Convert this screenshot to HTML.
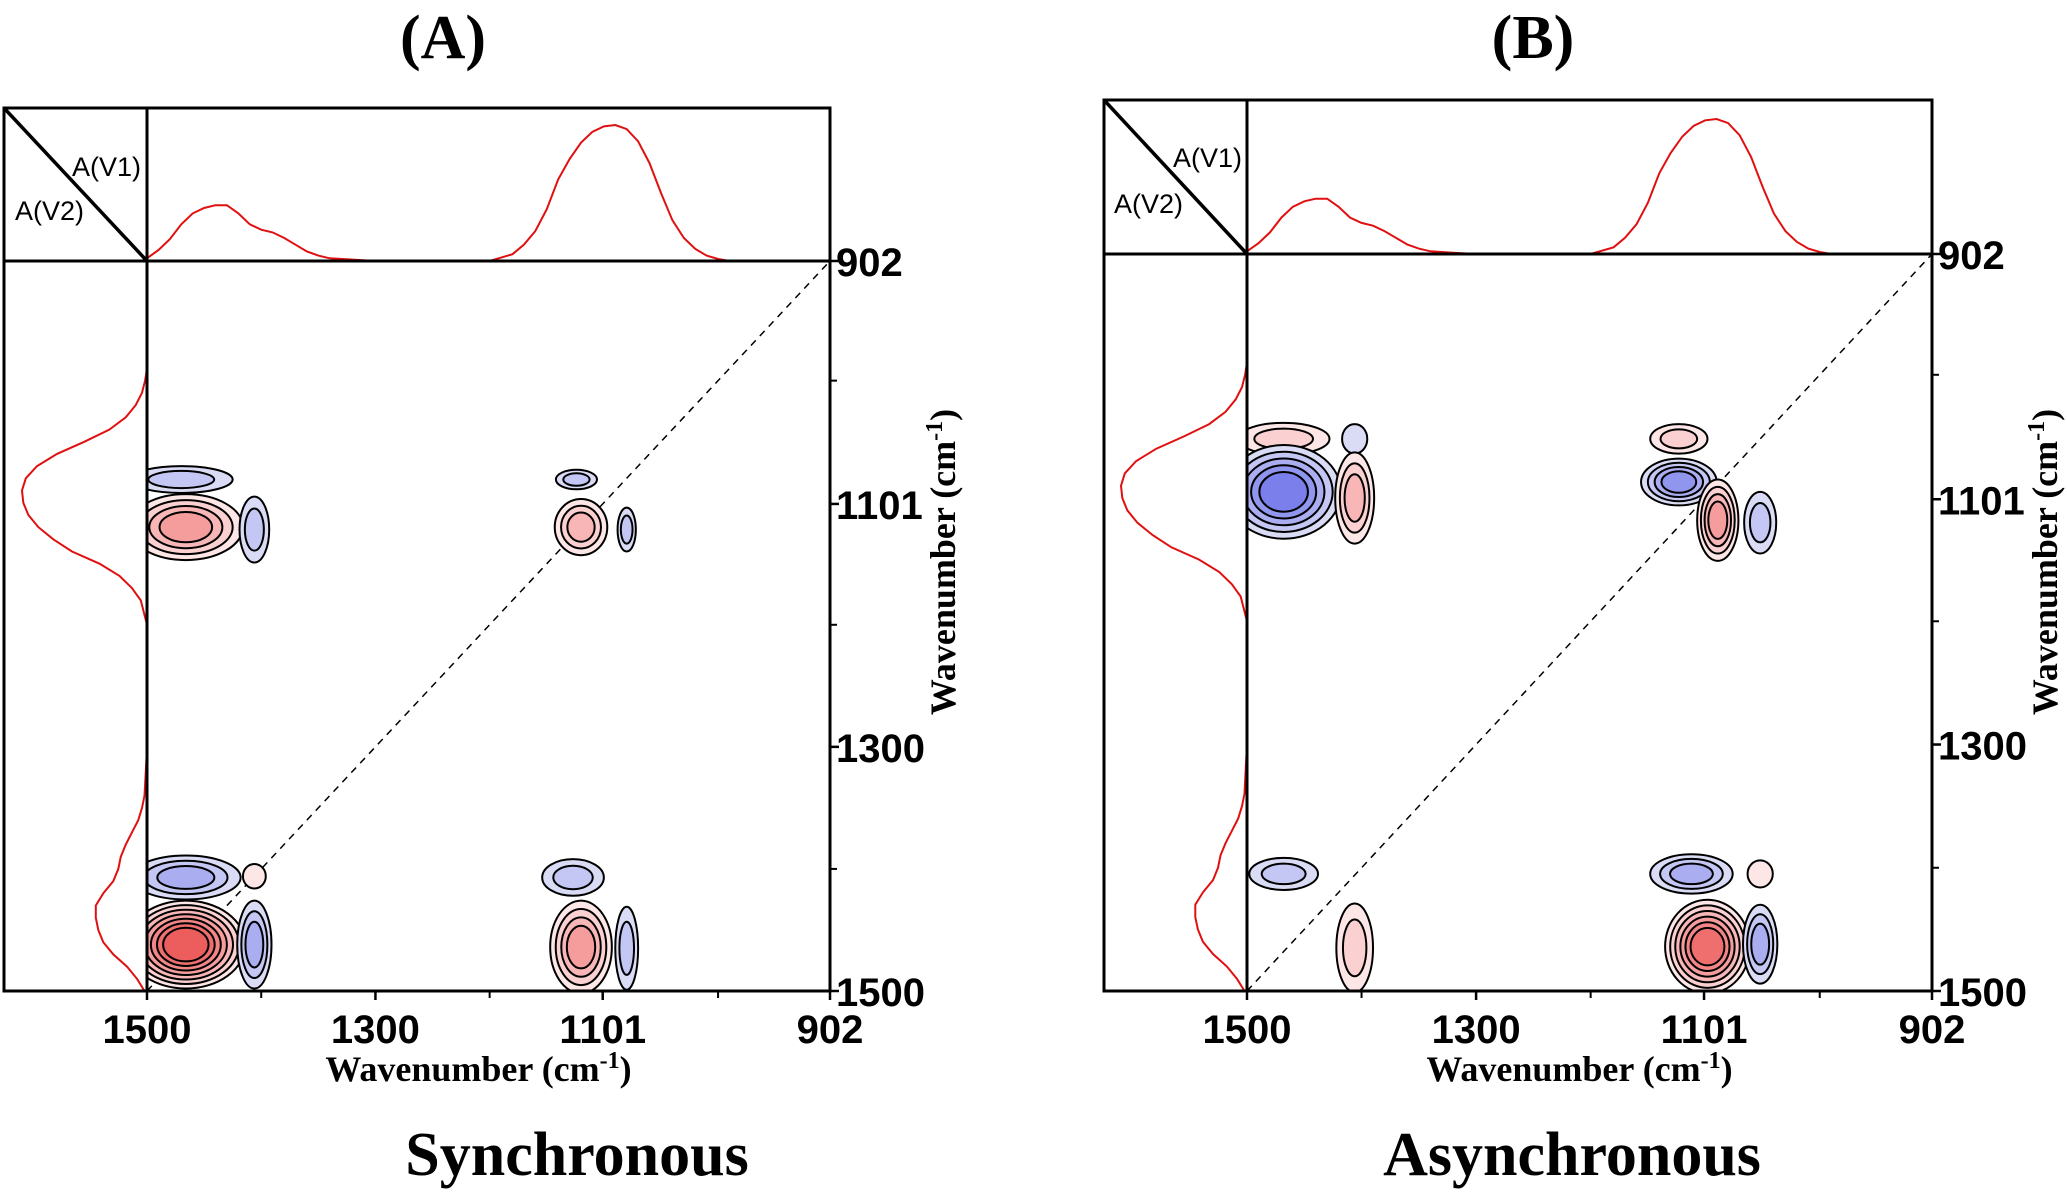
<!DOCTYPE html>
<html><head><meta charset="utf-8"><style>
html,body{margin:0;padding:0;background:#fff;}
svg{display:block;}
.tick{font-family:"Liberation Sans",Arial,sans-serif;font-weight:bold;font-size:40px;fill:#000;}
.ttl{font-family:"Liberation Serif","Times New Roman",serif;font-weight:bold;fill:#000;}
.av{font-family:"Liberation Sans",Arial,sans-serif;font-size:27px;fill:#000;}
</style></head><body>
<svg id="fig" width="2067" height="1192" viewBox="0 0 2067 1192" xmlns="http://www.w3.org/2000/svg">
<defs>
<clipPath id="clipA"><rect x="147" y="261" width="683" height="730"/></clipPath>
<clipPath id="clipB"><rect x="1247" y="254" width="685" height="737"/></clipPath>
</defs>
</svg>
<script>
// 1D reference spectrum (wavenumber, normalized absorbance)
const specWn  = [1500,1490,1480,1470,1460,1450,1440,1430,1420,1410,1400,1390,1380,1370,1360,1350,1340,1320,1300,1200,1180,1170,1160,1150,1140,1130,1120,1110,1100,1090,1080,1070,1060,1050,1040,1030,1020,1010,1000,990,902];
const specVal = [0.02,0.08,0.16,0.27,0.35,0.39,0.41,0.41,0.35,0.27,0.23,0.21,0.17,0.12,0.07,0.04,0.02,0.01,0,0,0.05,0.12,0.22,0.38,0.6,0.75,0.87,0.95,0.99,1.0,0.97,0.88,0.72,0.5,0.3,0.17,0.09,0.04,0.015,0,0];
const xTicks = [1500,1300,1101,902];
const minorTicks = [1400,1200,1000];

// Synchronous (A) contour peaks
const syncX   = [1470,1466,1406,1124,1120,1080,1466,1406,1466,1406,1127,1120,1080];
const syncY   = [1081,1120,1122,1081,1120,1122,1407,1406,1462,1462,1407,1464,1465];
const syncRX  = [45,50,13,18,23,8,48,10,52,15,27,27,10];
const syncRY  = [11,27,27,8,23,18,18,10,36,36,15,38,34];
const syncSign= [-1,1,-1,-1,1,-1,-1,1,1,-1,-1,1,-1];
const syncLev = [2,4,2,2,3,2,3,1,7,3,2,4,2];

// Asynchronous (B) contour peaks
const asyX   = [1468,1406,1468,1406,1123,1123,1089,1052,1468,1406,1112,1052,1098,1052];
const asyY   = [1052,1052,1095,1100,1052,1087,1118,1120,1405,1465,1405,1405,1464,1462];
const asyRX  = [40,11,50,17,25,33,18,14,30,16,36,11,37,15];
const asyRY  = [13,12,38,37,12,19,33,25,13,36,16,11,38,32];
const asySign= [1,-1,-1,1,1,-1,1,-1,-1,1,-1,1,1,-1];
const asyLev = [2,1,5,3,2,4,4,2,2,2,3,1,6,3];

const redPal  = ['#fde6e6','#fbd0d0','#f8b6b6','#f59c9c','#f28585','#ef6f6f','#ec5e5e'];
const bluePal = ['#dadcf6','#c4c6f3','#aaadf0','#9095ed','#7a7feb','#6669e8','#5657e6'];

const svg = document.getElementById('fig');
const NS = 'http://www.w3.org/2000/svg';
function mk(tag, attrs, parent){const e=document.createElementNS(NS,tag);for(const k in attrs)e.setAttribute(k,attrs[k]);(parent||svg).appendChild(e);return e;}

function panel(P){
  const g = mk('g',{});
  
  
  const sx = w => P.x0 + (1500 - w)/598*P.w;
  const sy = w => P.y0 + (w - 902)/598*P.h;
  const rx = d => d/598*P.w, ry = d => d/598*P.h;

  let pts = specWn.map((w,i)=> sx(w).toFixed(1)+','+(P.y0 - specVal[i]*P.topAmp).toFixed(1)).join(' ');
  const top = mk('polyline',{points:pts,fill:'none',stroke:'#e01010','stroke-width':2},g);
  
  
  pts = specWn.map((w,i)=> (P.x0 - specVal[i]*P.leftAmp).toFixed(1)+','+sy(w).toFixed(1)).join(' ');
  const left = mk('polyline',{points:pts,fill:'none',stroke:'#e01010','stroke-width':2},g);
  
  

  const diag = mk('line',{x1:sx(1500),y1:sy(1500),x2:sx(902),y2:sy(902),stroke:'#000','stroke-width':1.5,'stroke-dasharray':'7,6'},g);
  
  

  const cg = mk('g',{'clip-path':'url(#'+P.clip+')'},g);
  
  
  for(let i=0;i<P.cx.length;i++){
    const n=P.lev[i], pal = P.sign[i]>0?redPal:bluePal;
    for(let k=0;k<n;k++){
      const s = 1 - k/(n)*0.72;
      const e = mk('ellipse',{cx:sx(P.cx[i]),cy:sy(P.cy[i]),rx:rx(P.rx[i])*s,ry:ry(P.ry[i])*s,fill:pal[Math.min(k,6)],stroke:'#000','stroke-width':2},cg);
      
      
    }
  }

  const fr = mk('rect',{x:P.fx,y:P.fy,width:P.x0+P.w-P.fx,height:P.y0+P.h-P.fy,fill:'none',stroke:'#000','stroke-width':3},g);
  
  
  mk('line',{x1:P.x0,y1:P.fy,x2:P.x0,y2:P.y0+P.h,stroke:'#000','stroke-width':3},g);
  mk('line',{x1:P.fx,y1:P.y0,x2:P.x0+P.w,y2:P.y0,stroke:'#000','stroke-width':3},g);
  mk('line',{x1:P.fx,y1:P.fy,x2:P.x0,y2:P.y0,stroke:'#000','stroke-width':3.5},g);
  const a1 = mk('text',{x:P.av1x,y:P.av1y,class:'av'},g); a1.textContent='A(V1)';
   
  const a2 = mk('text',{x:P.av2x,y:P.av2y,class:'av'},g); a2.textContent='A(V2)';
   

  const yb = P.y0+P.h, xr = P.x0+P.w;
  xTicks.forEach(t=>{
    mk('line',{x1:sx(t),y1:yb,x2:sx(t),y2:yb+9,stroke:'#000','stroke-width':2.5},g);
    const tx = mk('text',{x:sx(t),y:yb+52,class:'tick','text-anchor':'middle'},g); tx.textContent=t;
     
    mk('line',{x1:xr,y1:sy(t),x2:xr+9,y2:sy(t),stroke:'#000','stroke-width':2.5},g);
    const ty = mk('text',{x:xr+6,y:sy(t)+15,class:'tick'},g); ty.textContent=t;
     
  });
  minorTicks.forEach(t=>{
    mk('line',{x1:sx(t),y1:yb,x2:sx(t),y2:yb+7,stroke:'#000','stroke-width':2},g);
    mk('line',{x1:xr,y1:sy(t),x2:xr+7,y2:sy(t),stroke:'#000','stroke-width':2},g);
  });
  const xt = mk('text',{x:P.x0+P.w/2-10,y:yb+90,class:'ttl','font-size':36,'text-anchor':'middle'},g);
  xt.innerHTML='Wavenumber (cm<tspan dy="-13" font-size="24">-1</tspan><tspan dy="13">)</tspan>';
   
  const yt = mk('text',{x:0,y:0,class:'ttl','font-size':36,'text-anchor':'middle',transform:'translate('+(P.ytx)+','+(P.yty)+') rotate(-90)'},g);
  yt.innerHTML='Wavenumber (cm<tspan dy="-13" font-size="24">-1</tspan><tspan dy="13">)</tspan>';
   
  const pl = mk('text',{x:P.labx,y:58,class:'ttl','font-size':62,'text-anchor':'middle'},g); pl.textContent=P.letter;
   
  const cap = mk('text',{x:P.capx,y:1175,class:'ttl','font-size':62,'text-anchor':'middle'},g); cap.textContent=P.caption;
   
}

panel({name:'synchronous-panel',clip:'clipA',x0:147,y0:261,w:683,h:730,fx:4,fy:108,topAmp:136,leftAmp:125,
  cx:syncX,cy:syncY,rx:syncRX,ry:syncRY,sign:syncSign,lev:syncLev,
  av1x:72,av1y:176,av2x:15,av2y:220,ytx:955,yty:562,labx:443,letter:'(A)',capx:577,caption:'Synchronous'});
panel({name:'asynchronous-panel',clip:'clipB',x0:1247,y0:254,w:685,h:737,fx:1104,fy:100,topAmp:135,leftAmp:126,
  cx:asyX,cy:asyY,rx:asyRX,ry:asyRY,sign:asySign,lev:asyLev,
  av1x:1173,av1y:167,av2x:1114,av2y:213,ytx:2057,yty:562,labx:1533,letter:'(B)',capx:1572,caption:'Asynchronous'});
</script>
</body></html>
